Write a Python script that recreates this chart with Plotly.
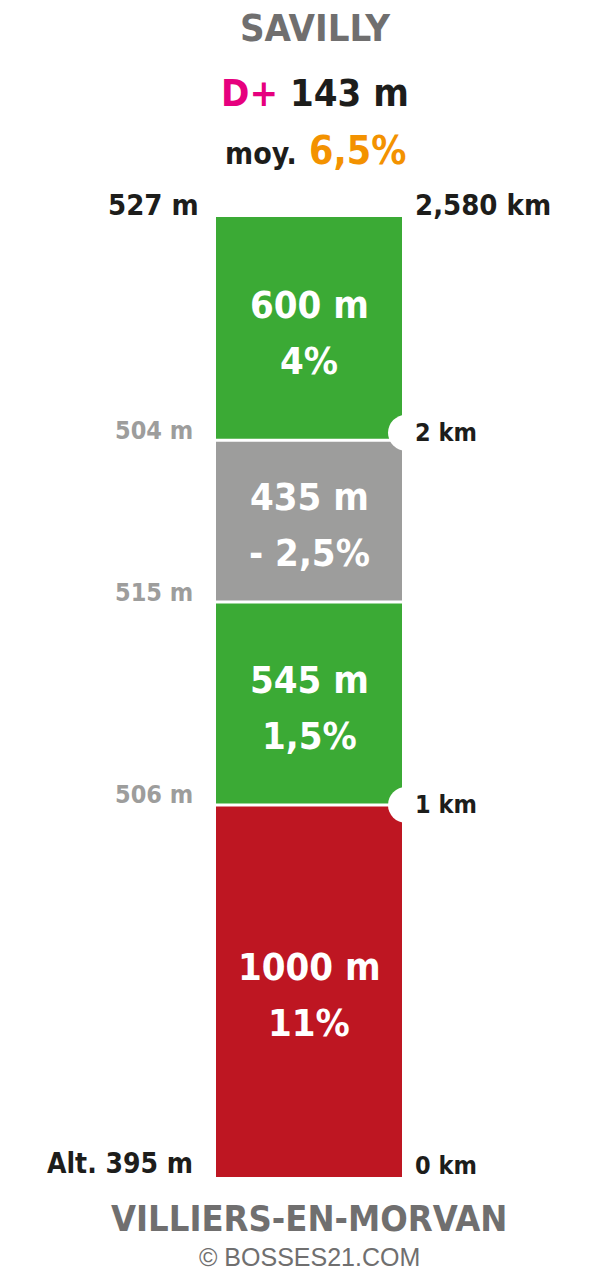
import plotly.graph_objects as go

# ---- data ----
seg_lengths = [1000, 545, 435, 600]          # m, bottom to top
seg_grades = ["11%", "1,5%", "- 2,5%", "4%"]
seg_colors = ["#BE1622", "#3BAA35", "#9D9D9C", "#3BAA35"]
boundary_alts = ["506 m", "515 m", "504 m"]   # altitude at internal boundaries (bottom to top)
km_marks = [1000, 2000]
km_labels = ["1 km", "2 km"]
start_alt = "Alt. 395 m"
end_alt = "527 m"
total_label = "2,580 km"
title_top = "SAVILLY"
title_bottom = "VILLIERS-EN-MORVAN"
d_plus = "143 m"
avg_grade = "6,5%"
credit = "© BOSSES21.COM"

FONT = "DejaVu Sans Condensed, DejaVu Sans, sans-serif"


def f(size, color):
    return dict(family=FONT, size=size, color=color, weight="bold")


total = sum(seg_lengths)
bases = [sum(seg_lengths[:i]) for i in range(len(seg_lengths))]
k = total / 960.0  # metres per pixel
yr = [-103 * k, total + 217 * k]

fig = go.Figure()
for L, b, c in zip(seg_lengths, bases, seg_colors):
    fig.add_trace(go.Bar(x=[309], y=[L], base=[b], width=[186],
                         marker=dict(color=c, line=dict(width=0)),
                         hoverinfo="skip", showlegend=False))

# white separators between segments
for b in bases[1:]:
    fig.add_shape(type="line", xref="x", yref="y", x0=216, x1=402, y0=b, y1=b,
                  line=dict(color="white", width=3))

# km notches
fig.add_trace(go.Scatter(x=[406] * len(km_marks), y=km_marks, mode="markers",
                         marker=dict(color="white", size=36, line=dict(width=0)),
                         hoverinfo="skip", showlegend=False, cliponaxis=False))

ann = []
for L, b, g in zip(seg_lengths, bases, seg_grades):
    ann.append(dict(x=309, y=b + L / 2, xref="x", yref="y",
                    text=f"{L} m", showarrow=False, yshift=24,
                    font=f(38, "white"), align="center"))
    ann.append(dict(x=309, y=b + L / 2, xref="x", yref="y",
                    text=g, showarrow=False, yshift=-32,
                    font=f(38, "white"), align="center"))
for b, t in zip(bases[1:], boundary_alts):
    ann.append(dict(x=195, y=b, xref="x", yref="y", text=t, showarrow=False,
                    xanchor="right", yanchor="middle", yshift=10,
                    font=f(25, "#9D9D9C")))
for m, t in zip(km_marks, km_labels):
    ann.append(dict(x=413, y=m, xref="x", yref="y", text=t, showarrow=False,
                    xanchor="left", yanchor="middle",
                    font=f(25, "#1D1D1B")))
ann.append(dict(x=201, y=total, xref="x", yref="y", text=end_alt, showarrow=False,
                xanchor="right", yanchor="middle", yshift=12,
                font=f(29, "#1D1D1B")))
ann.append(dict(x=413, y=total, xref="x", yref="y", text=total_label, showarrow=False,
                xanchor="left", yanchor="middle", yshift=12,
                font=f(29, "#1D1D1B")))
ann.append(dict(x=195, y=0, xref="x", yref="y", text=start_alt, showarrow=False,
                xanchor="right", yanchor="middle", yshift=14,
                font=f(28, "#1D1D1B")))
ann.append(dict(x=413, y=0, xref="x", yref="y", text="0 km", showarrow=False,
                xanchor="left", yanchor="middle", yshift=12,
                font=f(25, "#1D1D1B")))
ann.append(dict(x=0.525, y=1 - 28 / 1280, xref="paper", yref="paper", text=title_top,
                showarrow=False, yanchor="middle", font=f(38, "#706F6F")))
ann.append(dict(x=0.525, y=1 - 93 / 1280, xref="paper", yref="paper",
                text=f"<span style='color:#E6007E'>D+</span> {d_plus}",
                showarrow=False, yanchor="middle", font=f(38, "#1D1D1B")))
ann.append(dict(x=0.525, y=1 - 150 / 1280, xref="paper", yref="paper",
                text=f"<span style='font-size:30px'>moy.</span> <span style='color:#F39200'>{avg_grade}</span>",
                showarrow=False, yanchor="middle", font=f(39, "#1D1D1B")))
ann.append(dict(x=0.515, y=1 - 1218 / 1280, xref="paper", yref="paper", text=title_bottom,
                showarrow=False, yanchor="middle", font=f(36, "#706F6F")))
ann.append(dict(x=0.515, y=1 - 1257 / 1280, xref="paper", yref="paper", text=credit,
                showarrow=False, yanchor="middle",
                font=dict(family="Liberation Sans, Arial, sans-serif", size=25, color="#706F6F")))

fig.update_layout(
    width=600, height=1280,
    margin=dict(l=0, r=0, t=0, b=0),
    paper_bgcolor="white", plot_bgcolor="white",
    barmode="overlay",
    xaxis=dict(range=[0, 600], visible=False, fixedrange=True),
    yaxis=dict(range=yr, visible=False, fixedrange=True),
    annotations=ann,
    font=dict(family=FONT),
)
fig.write_html("out.html", config={"displayModeBar": False},
               post_script="document.body.style.margin='0';document.body.style.overflow='hidden';")
